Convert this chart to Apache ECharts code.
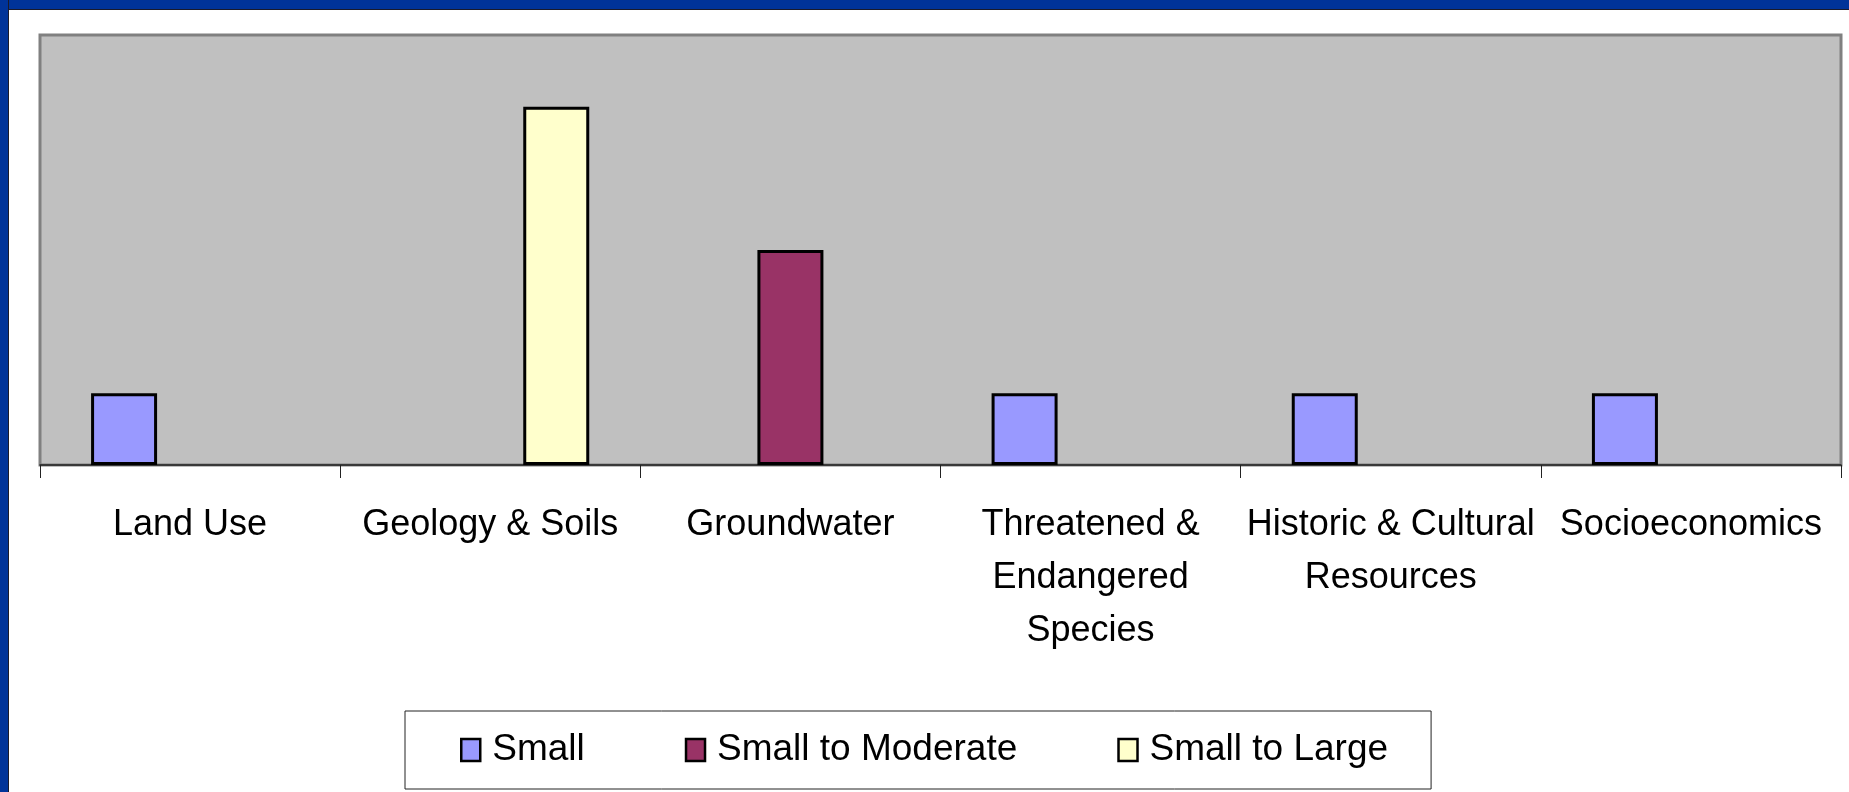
<!DOCTYPE html>
<html>
<head>
<meta charset="utf-8">
<script src="https://cdn.jsdelivr.net/npm/echarts@6/dist/echarts.min.js"></script>
<style>
  html, body { margin: 0; padding: 0; background: #fff; }
  #chart { position: absolute; left: 0; top: 0; width: 1849px; height: 792px; }
  .frame-top { position: absolute; left: 0; top: 0; width: 1849px; height: 9px; background: #003399; border-bottom: 1px solid #1a1a2a; }
  .frame-left { position: absolute; left: 0; top: 0; width: 8px; height: 792px; background: #003399; border-right: 1px solid #1a1a2a; }
</style>
</head>
<body>
<div id="chart"></div>
<div class="frame-top"></div>
<div class="frame-left"></div>
<script>
const categories = ['Land Use', 'Geology & Soils', 'Groundwater', 'Threatened &\nEndangered\nSpecies', 'Historic & Cultural\nResources', 'Socioeconomics']
const small = [1, null, null, 1, 1, 1]
const smallToModerate = [null, null, 3, null, null, null]
const smallToLarge = [null, 5, null, null, null, null]

const font = 'Liberation Sans, Arial, sans-serif'

function barSeries(name, data, color) {
  return {
    name: name,
    type: 'bar',
    data: data,
    barWidth: 66,
    barGap: '0%',
    itemStyle: { color: color, borderColor: '#000', borderWidth: 3 }
  }
}

const myChart = echarts.init(document.getElementById('chart'))
myChart.setOption({
  animation: false,
  grid: {
    left: 40, top: 35, right: 8, height: 430,
    show: true, backgroundColor: '#c0c0c0', borderColor: '#808080', borderWidth: 3
  },
  legend: {
    left: 405, top: 711,
    backgroundColor: '#fff', borderColor: '#222', borderWidth: 1,
    padding: [19, 43, 19, 55],
    itemWidth: 19, itemHeight: 22, itemGap: 100,
    icon: 'rect',
    itemStyle: { borderColor: '#000', borderWidth: 2.5 },
    textStyle: { fontSize: 37, fontFamily: font, color: '#000', lineHeight: 40, padding: [0, 0, 0, 7] },
    data: ['Small', 'Small to Moderate', 'Small to Large']
  },
  xAxis: {
    type: 'category',
    data: categories,
    axisLine: { lineStyle: { color: '#222', width: 1.5 } },
    axisTick: { show: true, length: 13, lineStyle: { color: '#222', width: 1 } },
    axisLabel: { interval: 0, fontSize: 36, fontFamily: font, color: '#000', lineHeight: 53, margin: 34 }
  },
  yAxis: { type: 'value', min: 0, max: 6, show: false, splitLine: { show: false } },
  series: [
    barSeries('Small', small, '#9999ff'),
    barSeries('Small to Moderate', smallToModerate, '#993366'),
    barSeries('Small to Large', smallToLarge, '#ffffcc')
  ]
})
</script>
</body>
</html>
